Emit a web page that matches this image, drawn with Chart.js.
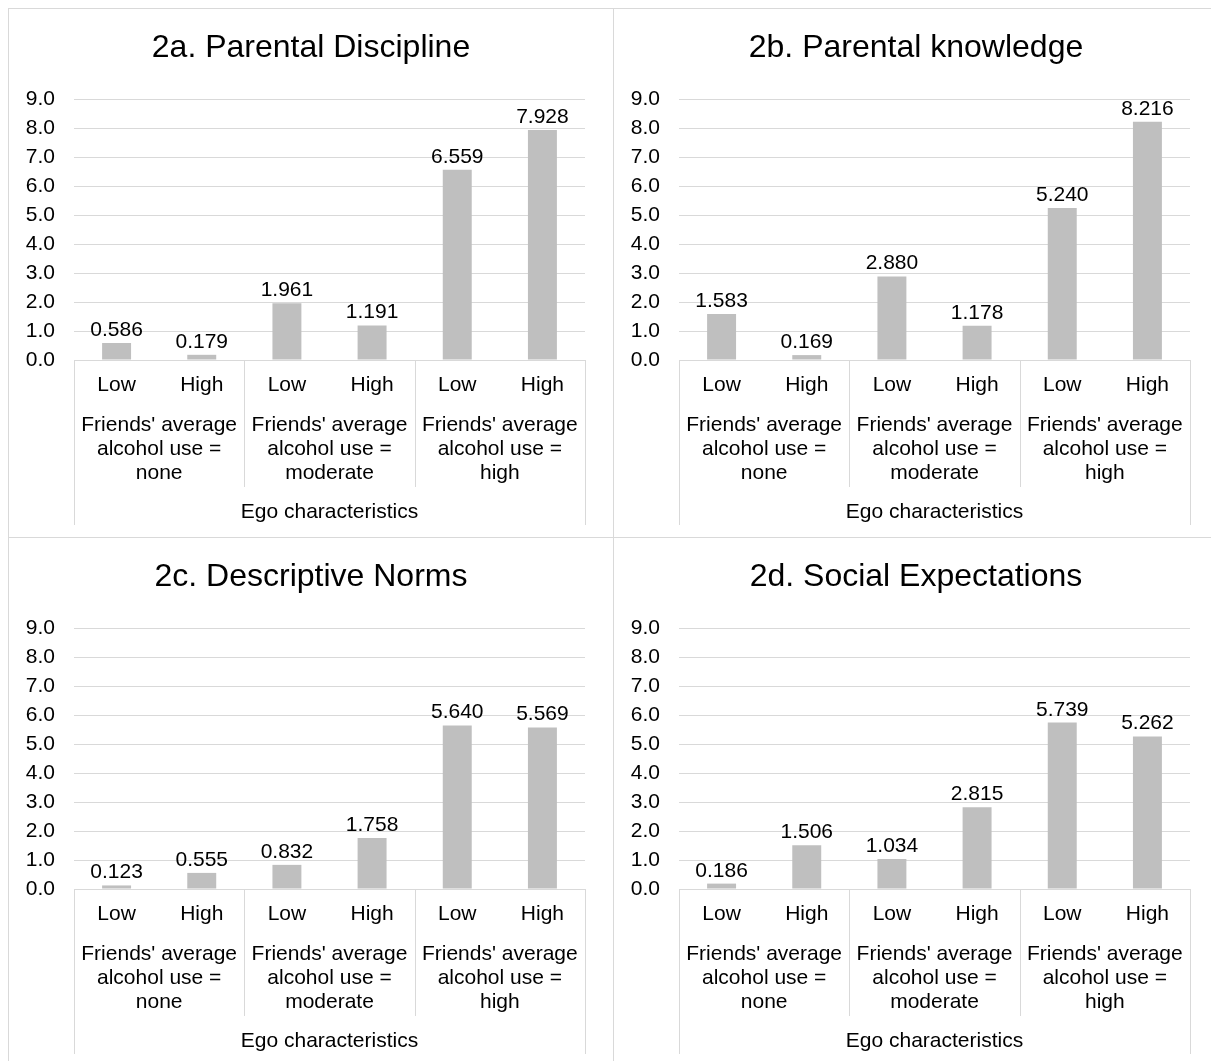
<!DOCTYPE html>
<html>
<head>
<meta charset="utf-8">
<title>Ego characteristics by friends' alcohol use</title>
<script src="https://cdn.jsdelivr.net/npm/chart.js@4/dist/chart.umd.min.js"></script>
<style>
  html, body { margin: 0; padding: 0; background: #fff; }
  body { width: 1211px; height: 1061px; position: relative; overflow: hidden; }
  .panel {
    position: absolute; width: 606px; height: 530px;
    box-sizing: border-box; border: 1px solid #d9d9d9; background: #fff;
  }
  .panel canvas { display: block; }
</style>
</head>
<body>
<div class="panel" style="left:8px;top:8px"><canvas id="c2a" width="604" height="528"></canvas></div>
<div class="panel" style="left:613px;top:8px"><canvas id="c2b" width="604" height="528"></canvas></div>
<div class="panel" style="left:8px;top:537px"><canvas id="c2c" width="604" height="528"></canvas></div>
<div class="panel" style="left:613px;top:537px"><canvas id="c2d" width="604" height="528"></canvas></div>
<script>
// Category levels: ego level (inner) within friends' alcohol-use groups (outer)
const egoLevels = ['Low', 'High', 'Low', 'High', 'Low', 'High'];
const friendGroups = [
  ["Friends' average", 'alcohol use =', 'none'],
  ["Friends' average", 'alcohol use =', 'moderate'],
  ["Friends' average", 'alcohol use =', 'high']
];
const outerAxisTitle = 'Ego characteristics';

// Value axis
const yMin = 0;
const yMax = 9;
const yStep = 1;

// Panel titles
const titles = [
  '2a. Parental Discipline',
  '2b. Parental knowledge',
  '2c. Descriptive Norms',
  '2d. Social Expectations'
];

// Series values, one per panel
const parentalDiscipline = [0.586, 0.179, 1.961, 1.191, 6.559, 7.928];
const parentalKnowledge  = [1.583, 0.169, 2.880, 1.178, 5.240, 8.216];
const descriptiveNorms   = [0.123, 0.555, 0.832, 1.758, 5.640, 5.569];
const socialExpectations = [0.186, 1.506, 1.034, 2.815, 5.739, 5.262];

const FONT = '"Liberation Sans", Arial, sans-serif';
const TEXT = '#000000';
const LINE = '#d9d9d9';
const BAR = '#bfbfbf';

// Value labels above each bar
const valueLabels = {
  id: 'valueLabels',
  afterDatasetsDraw(chart) {
    const ctx = chart.ctx;
    const meta = chart.getDatasetMeta(0);
    const values = chart.data.datasets[0].data;
    ctx.save();
    ctx.font = '21px ' + FONT;
    ctx.fillStyle = TEXT;
    ctx.textAlign = 'center';
    ctx.textBaseline = 'alphabetic';
    meta.data.forEach((bar, i) => {
      ctx.fillText(values[i].toFixed(3), bar.x, bar.y - 7);
    });
    ctx.restore();
  }
};

// Outer category level: group labels and separator lines below the axis
const groupAxis = {
  id: 'groupAxis',
  afterDraw(chart) {
    const ctx = chart.ctx;
    const x = chart.scales.x;
    const area = chart.chartArea;
    const per = egoLevels.length / friendGroups.length;
    const bounds = [area.left];
    for (let g = 1; g < friendGroups.length; g++) {
      bounds.push((x.getPixelForValue(g * per - 1) + x.getPixelForValue(g * per)) / 2);
    }
    bounds.push(area.right);

    ctx.save();
    ctx.strokeStyle = LINE;
    ctx.lineWidth = 1;
    bounds.forEach((bx, i) => {
      const outer = i === 0 || i === bounds.length - 1;
      const px = Math.round(bx) + 0.5;
      ctx.beginPath();
      ctx.moveTo(px, area.bottom);
      ctx.lineTo(px, area.bottom + (outer ? 165 : 127));
      ctx.stroke();
    });

    ctx.font = '21px ' + FONT;
    ctx.fillStyle = TEXT;
    ctx.textAlign = 'center';
    ctx.textBaseline = 'middle';
    friendGroups.forEach((lines, g) => {
      const cx = (x.getPixelForValue(g * per) + x.getPixelForValue(g * per + per - 1)) / 2;
      lines.forEach((line, k) => {
        ctx.fillText(line, cx, area.bottom + 65 + k * 24);
      });
    });
    ctx.restore();
  }
};

function drawPanel(id, title, values) {
  new Chart(document.getElementById(id), {
    type: 'bar',
    data: {
      labels: egoLevels,
      datasets: [{
        data: values,
        backgroundColor: BAR,
        borderWidth: 0,
        categoryPercentage: 1,
        barPercentage: 0.34
      }]
    },
    options: {
      responsive: false,
      animation: false,
      events: [],
      layout: { padding: 0 },
      plugins: {
        legend: { display: false },
        tooltip: { enabled: false },
        title: {
          display: true,
          text: title,
          color: TEXT,
          font: { family: FONT, size: 32, weight: 'normal', lineHeight: 1.2 },
          padding: { top: 20, bottom: 31.6 }
        }
      },
      scales: {
        x: {
          grid: { display: false, drawTicks: false },
          border: { display: true, color: LINE, width: 1 },
          ticks: {
            color: TEXT,
            padding: 12.4,
            maxRotation: 0,
            autoSkip: false,
            font: { family: FONT, size: 21, lineHeight: 1.2 }
          },
          title: {
            display: true,
            text: outerAxisTitle,
            color: TEXT,
            font: { family: FONT, size: 21, lineHeight: 1.2 },
            padding: { top: 0, bottom: 12.4 }
          },
          afterFit(scale) { scale.height = 177; }
        },
        y: {
          min: yMin,
          max: yMax,
          grid: { color: LINE, lineWidth: 1, drawTicks: false },
          border: { display: false },
          ticks: {
            stepSize: yStep,
            color: TEXT,
            padding: 19,
            font: { family: FONT, size: 21, lineHeight: 1.2 },
            callback: (v) => Number(v).toFixed(1)
          },
          afterFit(scale) { scale.width = 65; }
        },
        // empty right-hand margin axis, keeps the plot narrower than the title row
        margin: {
          type: 'linear',
          position: 'right',
          min: yMin,
          max: yMax,
          grid: { display: false, drawTicks: false },
          border: { display: false },
          ticks: { display: false },
          afterFit(scale) { scale.width = 28; }
        }
      }
    },
    plugins: [valueLabels, groupAxis]
  });
}

drawPanel('c2a', titles[0], parentalDiscipline);
drawPanel('c2b', titles[1], parentalKnowledge);
drawPanel('c2c', titles[2], descriptiveNorms);
drawPanel('c2d', titles[3], socialExpectations);
</script>
</body>
</html>
